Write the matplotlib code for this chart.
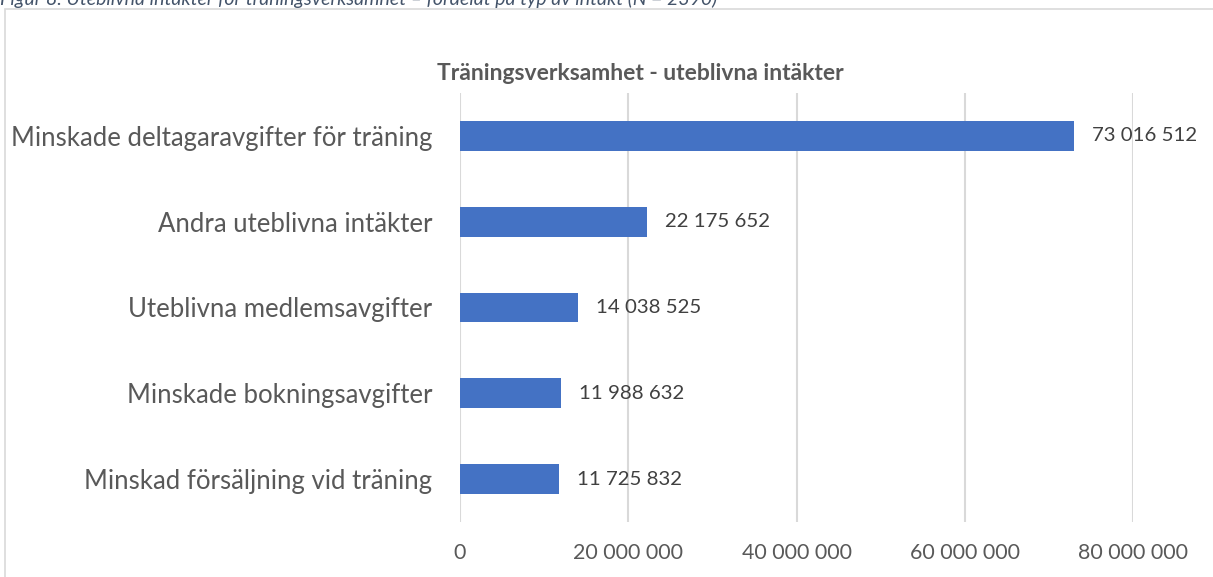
import matplotlib.pyplot as plt
from matplotlib.patches import Rectangle
from matplotlib.ticker import FuncFormatter

categories = [
    "Minskade deltagaravgifter för träning",
    "Andra uteblivna intäkter",
    "Uteblivna medlemsavgifter",
    "Minskade bokningsavgifter",
    "Minskad försäljning vid träning",
]
values = [73016512, 22175652, 14038525, 11988632, 11725832]
x_ticks = [0, 20000000, 40000000, 60000000, 80000000]

title = "Träningsverksamhet - uteblivna intäkter"
caption = "Figur 8. Uteblivna intäkter för träningsverksamhet – fördelat på typ av intäkt (N = 2390)"

BLUE = "#4472C4"
TEXT = "#595959"
GRID = "#D9D9D9"

plt.rcParams["font.family"] = ["Lato", "DejaVu Sans"]


def sv_fmt(v, _pos=None):
    return f"{int(round(v)):,}".replace(",", " ")


W, H = 1213, 577
fig = plt.figure(figsize=(W / 100, H / 100), dpi=100)

# chart frame (cut by the page edges)
fig.patches.append(Rectangle((5 / W, -0.1), 1.2, 1 - 9 / H + 0.1,
                             transform=fig.transFigure, fill=False,
                             edgecolor=GRID, linewidth=1.2))
# caption above the chart, half cut off by the page crop
fig.text(0, 1 + 1 / H, caption, ha="left", va="center", fontsize=14,
         style="italic", color="#44546A")

ax = fig.add_axes([460 / W, 1 - 522 / H, (1133 - 460) / W, 429 / H])
ypos = list(range(len(categories)))
ax.barh(ypos, values, height=0.345, color=BLUE, zorder=3)
ax.set_ylim(len(categories) - 0.5, -0.5)
ax.set_xlim(0, 80000000)
ax.set_yticks(ypos)
ax.set_yticklabels(categories, fontsize=18.5, color=TEXT)
ax.set_xticks(x_ticks)
ax.xaxis.set_major_formatter(FuncFormatter(sv_fmt))
ax.tick_params(axis="x", length=0, pad=15, labelsize=15.4, labelcolor=TEXT)
ax.tick_params(axis="y", length=0, pad=20)
ax.grid(axis="x", color=GRID, linewidth=1.5, zorder=0)
for s in ax.spines.values():
    s.set_visible(False)

for y, v in zip(ypos, values):
    ax.annotate(sv_fmt(v), (v, y), xytext=(13, 0), textcoords="offset points",
                ha="left", va="center", fontsize=14.7, color="#404040",
                annotation_clip=False)

fig.text(640 / W, 1 - 74 / H, title, ha="center", va="center", fontsize=16.5,
         fontweight="bold", color=TEXT)

fig.savefig("out.png", dpi=100)
